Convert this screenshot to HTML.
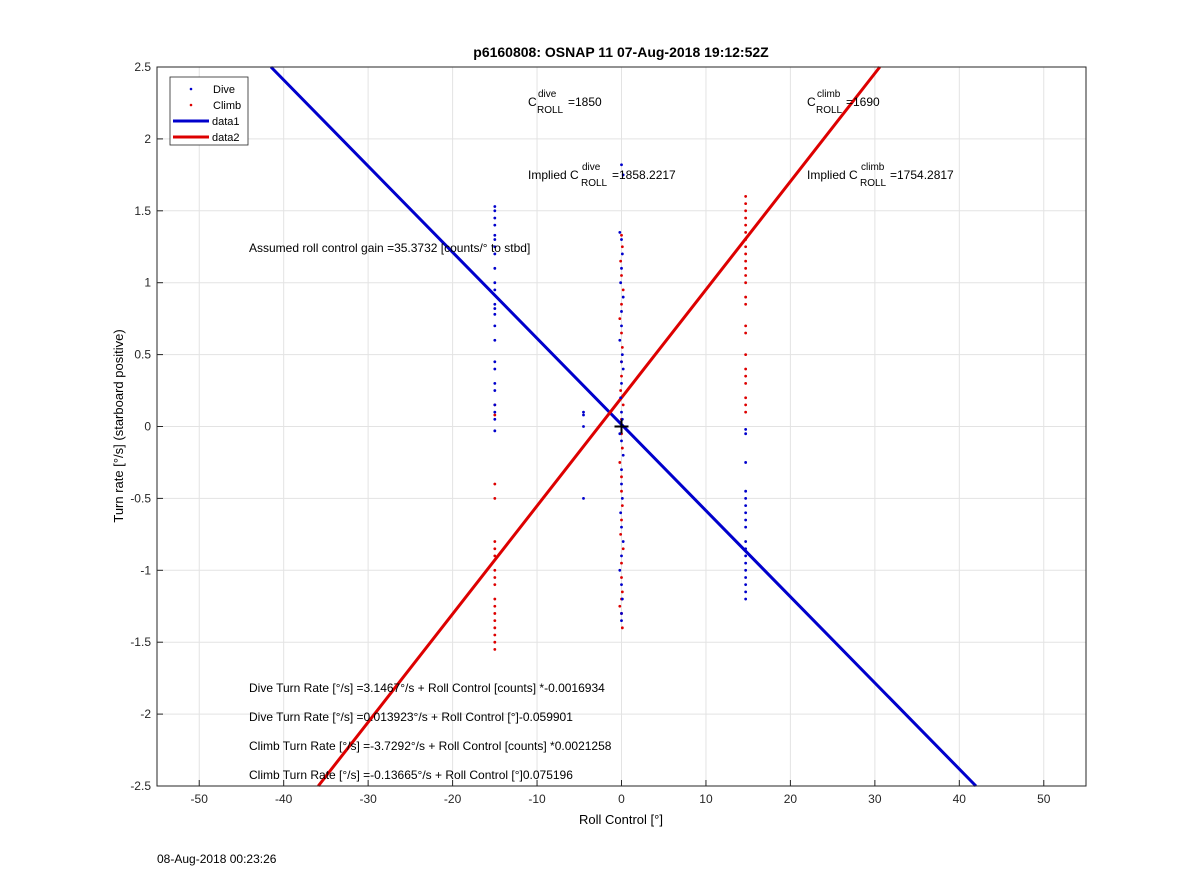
<!DOCTYPE html>
<html><head><meta charset="utf-8"><style>
body{margin:0;background:#fff;}
svg{display:block;font-family:"Liberation Sans",Arial,sans-serif;}
</style></head><body>
<svg id="chart" width="1200" height="885" viewBox="0 0 1200 885">
<rect x="0" y="0" width="1200" height="885" fill="#fff"/>
<g id="grid"></g>
<g id="marks"></g>
<rect x="157" y="67" width="929" height="719" fill="none" stroke="#262626" stroke-width="1"/>
<g id="ticks"></g>
<text x="621" y="57" text-anchor="middle" font-size="14" font-weight="bold">p6160808: OSNAP 11 07-Aug-2018 19:12:52Z</text>
<text x="621" y="824" text-anchor="middle" font-size="13">Roll Control [°]</text>
<text transform="translate(123,426) rotate(-90)" text-anchor="middle" font-size="13">Turn rate [°/s] (starboard positive)</text>
<text x="157" y="863" font-size="12">08-Aug-2018 00:23:26</text>
<g font-size="12">
<g>
<text x="528" y="106">C</text><text x="538" y="97" font-size="10">dive</text><text x="537" y="113" font-size="10">ROLL</text><text x="568" y="106">=1850</text>
</g>
<g>
<text x="807" y="106">C</text><text x="817" y="97" font-size="10">climb</text><text x="816" y="113" font-size="10">ROLL</text><text x="846" y="106">=1690</text>
</g>
<g>
<text x="528" y="179">Implied C</text><text x="582" y="170" font-size="10">dive</text><text x="581" y="186" font-size="10">ROLL</text><text x="612" y="179">=1858.2217</text>
</g>
<g>
<text x="807" y="179">Implied C</text><text x="861" y="170" font-size="10">climb</text><text x="860" y="186" font-size="10">ROLL</text><text x="890" y="179">=1754.2817</text>
</g>
<text x="249" y="252">Assumed roll control gain =35.3732 [counts/° to stbd]</text>
<text x="249" y="692">Dive Turn Rate [°/s] =3.1467°/s + Roll Control [counts] *-0.0016934</text>
<text x="249" y="721">Dive Turn Rate [°/s] =0.013923°/s + Roll Control [°]-0.059901</text>
<text x="249" y="750">Climb Turn Rate [°/s] =-3.7292°/s + Roll Control [counts] *0.0021258</text>
<text x="249" y="779">Climb Turn Rate [°/s] =-0.13665°/s + Roll Control [°]0.075196</text>
</g>
<g>
<rect x="170" y="77" width="78" height="68" fill="#fff" stroke="#262626" stroke-width="0.8"/>
<circle cx="191" cy="89" r="1.3" fill="#0000cc"/>
<text x="213" y="93" font-size="11">Dive</text>
<circle cx="191" cy="105" r="1.3" fill="#dd0000"/>
<text x="213" y="109" font-size="11">Climb</text>
<line x1="173" y1="121" x2="209" y2="121" stroke="#0000cc" stroke-width="3"/>
<text x="212" y="125" font-size="11">data1</text>
<line x1="173" y1="137" x2="209" y2="137" stroke="#dd0000" stroke-width="3"/>
<text x="212" y="141" font-size="11">data2</text>
</g>
</svg>
<script>
const xTicks=[-50,-40,-30,-20,-10,0,10,20,30,40,50];
const yTicks=[-2.5,-2,-1.5,-1,-0.5,0,0.5,1,1.5,2,2.5];
const diveFitSlope=-0.0599, diveFitIntercept=0.0139;
const climbFitSlope=0.0752, climbFitIntercept=0.2;
const diveX=[-15,-15,-15,-15,-15,-15,-15,-15,-15,-15,-15,-15,-15,-15,-15,-15,-15,-15,-15,-15,-15,-15,-15,-15,
-4.5,-4.5,-4.5,-4.5,
0,0.2,-0.2,0,0.1,0,-0.1,0.2,0,0,-0.2,0.1,0,0.2,0,-0.1,0,0.1,0,-0.2,0,0.2,0,0,0.1,-0.1,0,0.2,0,-0.2,0,0.1,0,0,
14.7,14.7,14.7,14.7,14.7,14.7,14.7,14.7,14.7,14.7,14.7,14.7,14.7,14.7,14.7,14.7,14.7,14.7];
const diveY=[1.53,1.5,1.45,1.4,1.33,1.3,1.25,1.2,1.1,1.0,0.95,0.85,0.82,0.78,0.7,0.6,0.45,0.4,0.3,0.25,0.15,0.1,0.05,-0.03,
0.1,0.08,0.0,-0.5,
1.82,1.75,1.35,1.3,1.2,1.1,1.0,0.9,0.8,0.7,0.6,0.5,0.45,0.4,0.3,0.2,0.1,0.05,0.0,-0.05,-0.1,-0.2,-0.3,-0.4,-0.5,-0.6,-0.7,-0.8,-0.9,-1.0,-1.1,-1.2,-1.3,-1.35,
-0.02,-0.05,-0.25,-0.45,-0.5,-0.55,-0.6,-0.65,-0.7,-0.8,-0.85,-0.9,-0.95,-1.0,-1.05,-1.1,-1.15,-1.2];
const climbX=[-15,-15,-15,-15,-15,-15,-15,-15,-15,-15,-15,-15,-15,-15,-15,-15,-15,-15,
0,0.1,-0.1,0,0.2,0,-0.2,0,0.1,0,0,-0.1,0.2,0,0,0.1,-0.2,0,0,0.1,0,-0.1,0.2,0,0,0.1,0,-0.2,0,0.1,
14.7,14.7,14.7,14.7,14.7,14.7,14.7,14.7,14.7,14.7,14.7,14.7,14.7,14.7,14.7,14.7,14.7,14.7,14.7,14.7,14.7,14.7,14.7,14.7];
const climbY=[0.15,0.08,-0.4,-0.5,-0.8,-0.85,-0.9,-1.0,-1.05,-1.1,-1.2,-1.25,-1.3,-1.35,-1.4,-1.45,-1.5,-1.55,
1.33,1.25,1.15,1.05,0.95,0.85,0.75,0.65,0.55,0.45,0.35,0.25,0.15,0.05,-0.05,-0.15,-0.25,-0.35,-0.45,-0.55,-0.65,-0.75,-0.85,-0.95,-1.05,-1.15,-1.2,-1.25,-1.3,-1.4,
1.6,1.55,1.5,1.45,1.4,1.35,1.3,1.25,1.2,1.15,1.1,1.05,1.0,0.9,0.85,0.7,0.65,0.5,0.4,0.35,0.3,0.2,0.15,0.1];
const L=157,R=1086,T=67,B=786,xMin=-55,xMax=55,yMin=-2.5,yMax=2.5;
const sx=v=>L+(v-xMin)/(xMax-xMin)*(R-L);
const sy=v=>B-(v-yMin)/(yMax-yMin)*(B-T);
const NS="http://www.w3.org/2000/svg";
function mk(tag,attrs,parent){const e=document.createElementNS(NS,tag);for(const k in attrs)e.setAttribute(k,attrs[k]);document.getElementById(parent).appendChild(e);return e;}
xTicks.forEach(t=>{
 const g=mk('line',{x1:sx(t),x2:sx(t),y1:T,y2:B,stroke:'#e3e3e3','stroke-width':1},'grid');
 
 
 const tk=mk('line',{x1:sx(t),x2:sx(t),y1:B,y2:B-6,stroke:'#262626'},'ticks');
 
 
 const tx=mk('text',{x:sx(t),y:B+17,'text-anchor':'middle','font-size':12,fill:'#262626'},'ticks');
 tx.textContent=String(t);
 
 
});
yTicks.forEach(t=>{
 const g=mk('line',{x1:L,x2:R,y1:sy(t),y2:sy(t),stroke:'#e3e3e3','stroke-width':1},'grid');
 
 
 const tk=mk('line',{x1:L,x2:L+6,y1:sy(t),y2:sy(t),stroke:'#262626'},'ticks');
 
 
 const tx=mk('text',{x:L-6,y:sy(t)+4,'text-anchor':'end','font-size':12,fill:'#262626'},'ticks');
 tx.textContent=String(t);
 
 
});
function fitLine(m,b,color,name){
 let x1=(yMax-b)/m,x2=(yMin-b)/m;
 const ln=mk('line',{x1:sx(x1),y1:sy(yMax),x2:sx(x2),y2:sy(yMin),stroke:color,'stroke-width':3},'marks');
 
 
}
fitLine(diveFitSlope,diveFitIntercept,'#0000cc','dive-fit-line');
fitLine(climbFitSlope,climbFitIntercept,'#dd0000','climb-fit-line');
climbX.forEach((x,i)=>{
 const c=mk('circle',{cx:sx(x),cy:sy(climbY[i]),r:1.4,fill:'#dd0000'},'marks');
 
 
});
diveX.forEach((x,i)=>{
 const c=mk('circle',{cx:sx(x),cy:sy(diveY[i]),r:1.4,fill:'#0000cc'},'marks');
 
 
});
const p1=mk('line',{x1:sx(0)-7,x2:sx(0)+7,y1:sy(0),y2:sy(0),stroke:'#000','stroke-width':2},'marks');


const p2=mk('line',{x1:sx(0),x2:sx(0),y1:sy(0)-7,y2:sy(0)+7,stroke:'#000','stroke-width':2},'marks');


</script>
</body></html>
